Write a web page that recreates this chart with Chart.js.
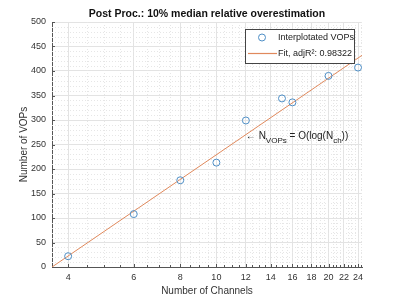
<!DOCTYPE html>
<html>
<head>
<meta charset="utf-8">
<script src="https://cdn.jsdelivr.net/npm/chart.js@4"></script>
<style>
  body { margin: 0; background: #fff; }
  canvas { display: block; }
</style>
</head>
<body>
<canvas id="vopChart" width="400" height="300"></canvas>
<script>
// values
const channels = [4, 6, 8, 10, 12, 15, 16, 20, 24];
const vops = [22, 108, 177, 213, 299, 344, 336, 390, 407];
const fitChannels = [3.62, 24.6];
const fitVops = [0, 432];
const xTickValues = [4, 6, 8, 10, 12, 14, 16, 18, 20, 22, 24];
const seriesLabels = ['Interplotated VOPs', 'Fit, adjR\u00b2: 0.98322'];
const notePoint = { x: 12, y: 272 };

const FONT = '"Liberation Sans", Arial, sans-serif';
const pointColor = '#4f8fc6';
const fitColor = '#e0895c';
const axisColor = '#555555';

// dotted minor grid + inward tick marks, like matlab
const minorGrid = {
    id: 'minorGrid',
    beforeDatasetsDraw(chart) {
        const { ctx, chartArea: a, scales: { x, y } } = chart;
        ctx.save();
        ctx.strokeStyle = '#e6e6e6';
        ctx.lineWidth = 1;
        ctx.setLineDash([1, 2]);
        for (let v = 4; v <= 24.5; v += 0.5) {
            if (xTickValues.includes(v)) continue;
            const px = Math.round(x.getPixelForValue(v)) + 0.5;
            ctx.beginPath();
            ctx.moveTo(px, a.top);
            ctx.lineTo(px, a.bottom);
            ctx.stroke();
        }
        for (let v = 10; v < 500; v += 10) {
            if (v % 50 === 0) continue;
            const py = Math.round(y.getPixelForValue(v)) + 0.5;
            ctx.beginPath();
            ctx.moveTo(a.left, py);
            ctx.lineTo(a.right, py);
            ctx.stroke();
        }
        ctx.setLineDash([]);
        ctx.strokeStyle = axisColor;
        for (let v = 4; v <= 24.5; v += 0.5) {
            const px = Math.round(x.getPixelForValue(v)) + 0.5;
            const len = xTickValues.includes(v) ? 3 : 2;
            ctx.beginPath();
            ctx.moveTo(px, a.bottom);
            ctx.lineTo(px, a.bottom - len);
            ctx.stroke();
        }
        for (let v = 0; v <= 500; v += 50) {
            const py = Math.round(y.getPixelForValue(v)) + 0.5;
            ctx.beginPath();
            ctx.moveTo(a.left, py);
            ctx.lineTo(a.left + 3, py);
            ctx.stroke();
        }
        ctx.restore();
    }
};

// legend box inside the axes and the text note with subscripts
const overlay = {
    id: 'overlay',
    afterDatasetsDraw(chart) {
        const { ctx, scales: { x, y } } = chart;
        ctx.save();

        // legend
        const bx = 245.5, by = 29.5, bw = 109, bh = 34;
        ctx.fillStyle = '#ffffff';
        ctx.fillRect(bx, by, bw, bh);
        ctx.strokeStyle = '#444';
        ctx.lineWidth = 1;
        ctx.strokeRect(bx, by, bw, bh);

        ctx.strokeStyle = pointColor;
        ctx.beginPath();
        ctx.arc(262, 37.5, 3.5, 0, Math.PI * 2);
        ctx.stroke();
        ctx.strokeStyle = fitColor;
        ctx.lineWidth = 1.2;
        ctx.beginPath();
        ctx.moveTo(248, 53.5);
        ctx.lineTo(277, 53.5);
        ctx.stroke();

        ctx.fillStyle = '#222';
        ctx.font = '9px ' + FONT;
        ctx.textBaseline = 'middle';
        ctx.textAlign = 'left';
        ctx.fillText(chart.data.datasets[0].label, 278, 37.5);
        ctx.fillText(chart.data.datasets[1].label, 278, 53.5);

        // note: arrow tip sits on the fit line
        let px = x.getPixelForValue(notePoint.x);
        const py = y.getPixelForValue(notePoint.y) + 1;
        const big = '10px ' + FONT;
        const small = '8px ' + FONT;
        ctx.textBaseline = 'alphabetic';
        const base = py + 4;
        const parts = [
            ['\u2190 ', big, 0],
            ['N', big, 0],
            ['VOPs', small, 4],
            [' = O(log(N', big, 0],
            ['ch', small, 4],
            ['))', big, 0]
        ];
        parts.forEach(([t, f, dy]) => {
            ctx.font = f;
            ctx.fillText(t, px, base + dy);
            px += ctx.measureText(t).width;
        });
        ctx.restore();
    }
};

new Chart(document.getElementById('vopChart'), {
    type: 'scatter',
    data: {
        datasets: [
            {
                label: seriesLabels[0],
                data: channels.map((c, i) => ({ x: c, y: vops[i] })),
                pointStyle: 'circle',
                pointRadius: 3.5,
                pointBorderWidth: 1,
                borderColor: pointColor,
                backgroundColor: 'rgba(0,0,0,0)',
                showLine: false
            },
            {
                label: seriesLabels[1],
                data: fitChannels.map((c, i) => ({ x: c, y: fitVops[i] })),
                showLine: true,
                borderColor: fitColor,
                borderWidth: 1,
                pointRadius: 0
            }
        ]
    },
    options: {
        responsive: false,
        animation: false,
        devicePixelRatio: 1,
        layout: { padding: { left: 0, right: 38, top: 0, bottom: 0 } },
        plugins: {
            legend: { display: false },
            tooltip: { enabled: false },
            title: {
                display: true,
                fullSize: false,
                text: 'Post Proc.: 10% median relative overestimation',
                color: '#111',
                font: { family: FONT, size: 10.5, weight: 'bold' },
                padding: { top: 7.7, bottom: 1.7 }
            }
        },
        scales: {
            x: {
                type: 'logarithmic',
                min: 3.62,
                max: 24.6,
                afterBuildTicks: scale => {
                    scale.ticks = xTickValues.map(v => ({ value: v }));
                },
                afterFit: scale => { scale.height = 33; },
                ticks: {
                    callback: v => String(v),
                    autoSkip: false,
                    maxRotation: 0,
                    padding: 5,
                    color: '#333',
                    font: { family: FONT, size: 9 }
                },
                grid: { color: '#e3e3e3', drawTicks: false },
                border: { display: true, color: axisColor },
                title: {
                    display: true,
                    text: 'Number of Channels',
                    color: '#333',
                    font: { family: FONT, size: 10 },
                    padding: { top: 0, bottom: 2.5 }
                }
            },
            y: {
                min: 0,
                max: 500,
                afterFit: scale => { scale.width = 52; },
                ticks: {
                    stepSize: 50,
                    padding: 6,
                    color: '#333',
                    font: { family: FONT, size: 9 }
                },
                grid: { color: '#e3e3e3', drawTicks: false },
                border: { display: true, color: axisColor },
                title: {
                    display: true,
                    text: 'Number of VOPs',
                    color: '#333',
                    font: { family: FONT, size: 10 },
                    padding: { top: 18, bottom: 0 }
                }
            }
        }
    },
    plugins: [minorGrid, overlay]
});
</script>
</body>
</html>
